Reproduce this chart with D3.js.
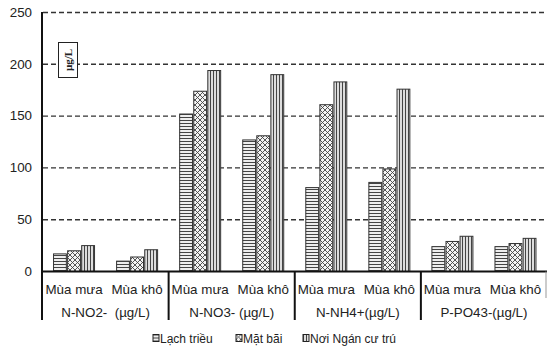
<!DOCTYPE html>
<html>
<head>
<meta charset="utf-8">
<script src="https://cdn.jsdelivr.net/npm/d3@7"></script>
<style>
  html, body { margin: 0; padding: 0; background: #fff; }
  svg { display: block; }
  text { font-family: "Liberation Sans", Arial, sans-serif; fill: #222; white-space: pre; }
</style>
</head>
<body>
<script>
// ---- data ----
const groups = ["N-NO2-  (µg/L)", "N-NO3- (µg/L)", "N-NH4+(µg/L)", "P-PO43-(µg/L)"];
const seasons = ["Mùa mưa", "Mùa khô"];
const series = ["Lạch triều", "Mặt bãi", "Nơi Ngán cư trú"];
const lachTrieu = [17, 10, 152, 127, 81, 86, 24, 24];
const matBai    = [20, 14, 174, 131, 161, 99, 29, 27];
const noiNgan   = [25, 21, 194, 190, 183, 176, 34, 32];
const yTicks = [0, 50, 100, 150, 200, 250];
const unitLabel = "µg/L";

const W = 547, H = 349;
const svg = d3.select("body").append("svg").attr("width", W).attr("height", H);

const defs = svg.append("defs");
// horizontal stripes
const p1 = defs.append("pattern").attr("id", "pH").attr("patternUnits", "userSpaceOnUse")
  .attr("width", 4).attr("height", 3);
p1.append("rect").attr("width", 4).attr("height", 3).attr("fill", "#eee");
p1.append("line").attr("x1", 0).attr("x2", 4).attr("y1", 0.5).attr("y2", 0.5)
  .attr("stroke", "#444").attr("stroke-width", 1);
// crosshatch
const p2 = defs.append("pattern").attr("id", "pX").attr("patternUnits", "userSpaceOnUse")
  .attr("width", 5).attr("height", 5);
p2.append("rect").attr("width", 5).attr("height", 5).attr("fill", "#f4f4f4");
p2.append("path").attr("d", "M0,0L5,5M5,0L0,5M-1,4L1,6M4,-1L6,1M-1,1L1,-1M4,6L6,4")
  .attr("stroke", "#444").attr("stroke-width", 0.9).attr("fill", "none");
// vertical stripes
const p3 = defs.append("pattern").attr("id", "pV").attr("patternUnits", "userSpaceOnUse")
  .attr("width", 3).attr("height", 4);
p3.append("rect").attr("width", 3).attr("height", 4).attr("fill", "#ddd");
p3.append("line").attr("x1", 0.5).attr("x2", 0.5).attr("y1", 0).attr("y2", 4)
  .attr("stroke", "#444").attr("stroke-width", 1);
const fills = ["url(#pH)", "url(#pX)", "url(#pV)"];

// ---- scales ----
const subKeys = [];
groups.forEach((g, gi) => seasons.forEach((s, si) => subKeys.push(gi + "|" + si)));
const x = d3.scaleBand().domain(subKeys).range([42.5, 547]);
const xInner = d3.scaleBand().domain(series).range([0, 41]).paddingInner(0.09);
const innerOff = (x.bandwidth() - 41) / 2;
const y = d3.scaleLinear().domain([0, 250]).range([271.5, 12.5]);

const SX = 1.115;

// gridlines
svg.append("g").selectAll("line").data(yTicks.filter(t => t > 0)).join("line")
  .attr("x1", 43).attr("x2", W).attr("y1", d => y(d)).attr("y2", d => y(d))
  .attr("stroke", "#333").attr("stroke-width", 1.4).attr("stroke-dasharray", "5,3");

// y tick labels
svg.append("g").selectAll("text").data(yTicks).join("text")
  .attr("transform", d => `translate(32,${y(d) + 4.3}) scale(${SX},1)`)
  .attr("text-anchor", "end").attr("font-size", 12)
  .text(d => d);

// bars
const seriesVals = [lachTrieu, matBai, noiNgan];
const barData = [];
subKeys.forEach((k, i) => series.forEach((s, j) => barData.push({ k, s, j, v: seriesVals[j][i] })));
svg.append("g").selectAll("rect").data(barData).join("rect")
  .attr("x", d => x(d.k) + innerOff + xInner(d.s))
  .attr("width", xInner.bandwidth())
  .attr("y", d => y(d.v))
  .attr("height", d => y(0) - y(d.v))
  .attr("fill", d => fills[d.j])
  .attr("stroke", "#333").attr("stroke-width", 1);

// axes lines
svg.append("line").attr("x1", 42).attr("x2", 42).attr("y1", 12).attr("y2", 320)
  .attr("stroke", "#111").attr("stroke-width", 2);
svg.append("line").attr("x1", 41).attr("x2", W).attr("y1", y(0)).attr("y2", y(0))
  .attr("stroke", "#111").attr("stroke-width", 2);

// group separators
const sepX = groups.map((g, gi) => x(gi + "|0")).slice(1);
svg.append("g").selectAll("line").data(sepX).join("line")
  .attr("x1", d => d).attr("x2", d => d).attr("y1", y(0)).attr("y2", 320)
  .attr("stroke", "#111").attr("stroke-width", 2);
svg.append("line").attr("x1", 546).attr("x2", 546).attr("y1", y(0)).attr("y2", 298)
  .attr("stroke", "#999").attr("stroke-width", 1);

// season labels
svg.append("g").selectAll("text").data(subKeys).join("text")
  .attr("transform", d => `translate(${x(d) + x.bandwidth() / 2},293.5) scale(${SX},1)`)
  .attr("text-anchor", "middle").attr("font-size", 12)
  .text(d => seasons[+d.split("|")[1]]);

// group labels
svg.append("g").selectAll("text").data(groups).join("text")
  .attr("transform", (d, gi) => `translate(${x(gi + "|1")},317) scale(${SX},1)`)
  .attr("text-anchor", "middle").attr("font-size", 12)
  .text(d => d);

// unit box
const ub = svg.append("g").attr("transform", "translate(58,42)");
ub.append("rect").attr("x", 0.5).attr("y", 0.5).attr("width", 19).attr("height", 35)
  .attr("fill", "#fff").attr("stroke", "#222").attr("stroke-width", 1);
ub.append("text").attr("transform", "translate(13.5,18) rotate(-90)")
  .attr("text-anchor", "middle")
  .style("font-family", "'Liberation Serif', 'Times New Roman', serif")
  .style("font-weight", "bold").attr("font-size", 11)
  .text(unitLabel);

// legend
const legX = [153, 236, 303];
const leg = svg.append("g").selectAll("g").data(series).join("g")
  .attr("transform", (d, i) => `translate(${legX[i]},334.5)`);
leg.append("rect").attr("width", 6).attr("height", 7)
  .attr("fill", (d, i) => fills[i]).attr("stroke", "#222").attr("stroke-width", 1);
leg.append("text").attr("x", 7).attr("y", 8).attr("font-size", 12).text(d => d);
</script>
</body>
</html>
